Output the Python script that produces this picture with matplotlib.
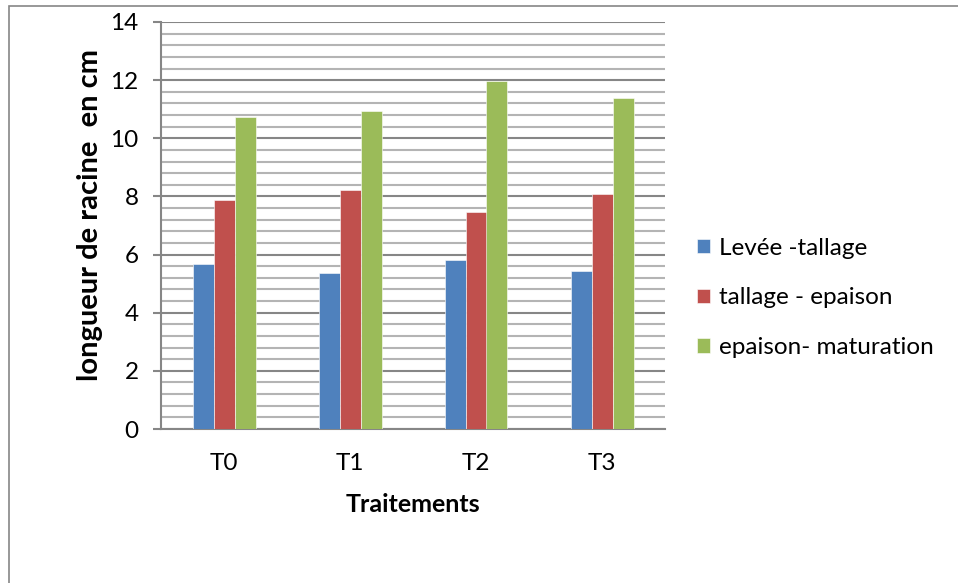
import matplotlib
matplotlib.use("Agg")
import matplotlib.pyplot as plt
from matplotlib.ticker import MultipleLocator
from matplotlib.patches import Rectangle
import numpy as np

plt.rcParams['font.family'] = ['Lato', 'DejaVu Sans']

categories = ["T0", "T1", "T2", "T3"]
series_names = ["Levée -tallage", "tallage - epaison", "epaison- maturation"]
levee_tallage = [5.68, 5.37, 5.80, 5.45]
tallage_epaison = [7.89, 8.22, 7.48, 8.07]
epaison_maturation = [10.74, 10.94, 11.97, 11.40]
yticks = [0, 2, 4, 6, 8, 10, 12, 14]

colors = ["#4F81BD", "#C0504D", "#9BBB59"]
grid_dark = "#868686"
grid_light = "#b4b4b4"

W, H = 958, 583
fig = plt.figure(figsize=(W / 100, H / 100), dpi=100)
fig.patch.set_facecolor("white")

# chart frame (top and left edges visible)
fig.add_artist(Rectangle((9 / W, -0.05), 1.1, 1.05 - 5.5 / H,
                         transform=fig.transFigure, fill=False,
                         edgecolor=grid_dark, linewidth=1.2))

ax = fig.add_axes([161 / W, 1 - 429 / H, 504 / W, 407 / H])

x = np.arange(len(categories))
bw = 1 / 6
for i, (vals, name) in enumerate(zip([levee_tallage, tallage_epaison, epaison_maturation], series_names)):
    ax.bar(x + (i - 1) * bw, vals, width=bw, color=colors[i], label=name,
           edgecolor="white", linewidth=0.4, zorder=3)

ax.set_xlim(-0.5, len(categories) - 0.5)
ax.set_ylim(0, 14)
ax.set_yticks(yticks)
ax.yaxis.set_minor_locator(MultipleLocator(0.4))
ax.grid(axis="y", which="major", color=grid_dark, linewidth=1.5, zorder=0)
ax.grid(axis="y", which="minor", color=grid_light, linewidth=1.5, zorder=0)
ax.set_axisbelow(True)

for s in ["top", "right"]:
    ax.spines[s].set_visible(False)
for s in ["left", "bottom"]:
    ax.spines[s].set_color(grid_dark)
    ax.spines[s].set_linewidth(1.5)

ax.set_xticks(x)
ax.set_xticklabels(categories, fontsize=17.5)
ax.tick_params(axis="x", length=0, pad=17)
ax.tick_params(axis="y", which="major", length=6, width=1.5, color=grid_dark,
               labelsize=17.5, pad=10)
ax.tick_params(axis="y", which="minor", length=0)

ax.set_ylabel("longueur de racine  en cm", fontsize=21, fontweight="bold")
ax.yaxis.set_label_coords(-58 / 504, (429 - 215) / 407, transform=ax.transAxes)
ax.set_xlabel("Traitements", fontsize=18, fontweight="bold", labelpad=14)

ax.legend(loc="center left", bbox_to_anchor=(1.02, 0.322), frameon=False,
          fontsize=17.5, handlelength=0.55, handleheight=0.55,
          handletextpad=0.35, labelspacing=1.18)

fig.savefig("out.png", dpi=100, facecolor="white")
